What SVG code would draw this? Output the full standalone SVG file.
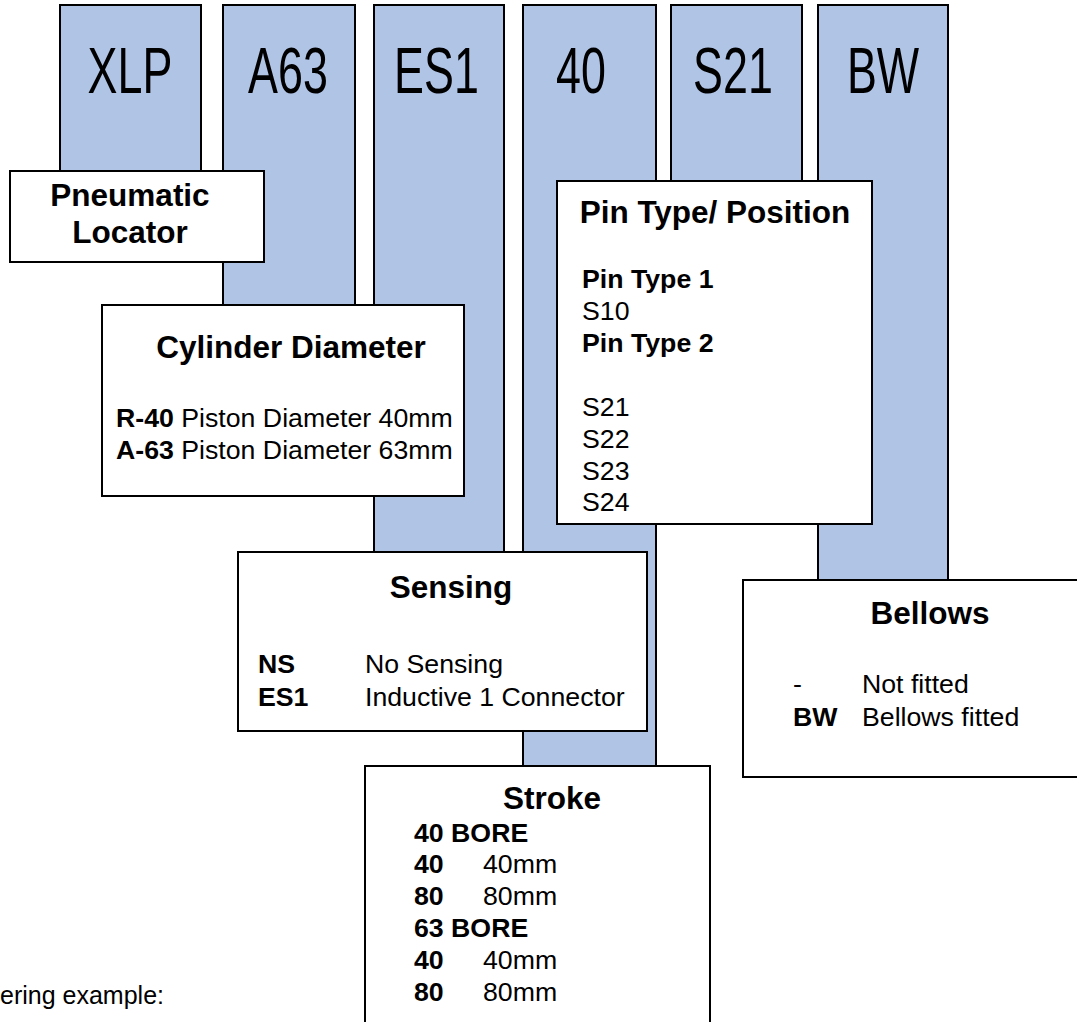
<svg xmlns="http://www.w3.org/2000/svg" width="1077" height="1022" viewBox="0 0 1077 1022">
<style>
.col{fill:#B0C4E6;stroke:#000;stroke-width:2}
.box{fill:#fff;stroke:#000;stroke-width:2}
.code{font-family:"Liberation Sans",Arial,sans-serif;font-size:65px;fill:#000;text-anchor:middle}
.title{font-family:"Liberation Sans",Arial,sans-serif;font-size:31.5px;font-weight:bold;fill:#000;text-anchor:middle}
.t{font-family:"Liberation Sans",Arial,sans-serif;font-size:26.7px;fill:#000}
.b{font-weight:bold}
</style>
<rect width="1077" height="1022" fill="#fff"/>
<g id="columns">
<g id="col-xlp"><rect class="col" x="60" y="5" width="141" height="180"/><text class="code" transform="translate(130,93) scale(0.69,1)">XLP</text></g>
<g id="col-a63"><rect class="col" x="223" y="5" width="132" height="310"/><text class="code" transform="translate(288,93) scale(0.69,1)">A63</text></g>
<g id="col-es1"><rect class="col" x="374" y="5" width="130" height="555"/><text class="code" transform="translate(436.5,93) scale(0.69,1)">ES1</text></g>
<g id="col-40"><rect class="col" x="523" y="5" width="133" height="770"/><text class="code" transform="translate(581,93) scale(0.69,1)">40</text></g>
<g id="col-s21"><rect class="col" x="671" y="5" width="131" height="190"/><text class="code" transform="translate(733,93) scale(0.69,1)">S21</text></g>
<g id="col-bw"><rect class="col" x="818" y="5" width="130" height="585"/><text class="code" transform="translate(883,93) scale(0.69,1)">BW</text></g>
</g>
<g id="connectors"></g>
<g id="pneumatic-locator">
<rect class="box" x="10" y="171" width="254" height="91"/>
<text class="title" x="130" y="206">Pneumatic</text>
<text class="title" x="130" y="243">Locator</text>
</g>
<g id="cylinder-diameter">
<rect class="box" x="102" y="305" width="362" height="191"/>
<text class="title" x="291" y="358">Cylinder Diameter</text>
<text class="t" x="116" y="427"><tspan class="b">R-40</tspan> Piston Diameter 40mm</text>
<text class="t" x="116" y="459"><tspan class="b">A-63</tspan> Piston Diameter 63mm</text>
</g>
<g id="pin-type-position">
<rect class="box" x="557" y="181" width="315" height="343"/>
<text class="title" x="715" y="223">Pin Type/ Position</text>
<text class="t b" x="582" y="288">Pin Type 1</text>
<text class="t" x="582" y="320">S10</text>
<text class="t b" x="582" y="352">Pin Type 2</text>
<text class="t" x="582" y="416">S21</text>
<text class="t" x="582" y="448">S22</text>
<text class="t" x="582" y="480">S23</text>
<text class="t" x="582" y="511">S24</text>
</g>
<g id="sensing">
<rect class="box" x="238" y="552" width="409" height="179"/>
<text class="title" x="451" y="598">Sensing</text>
<text class="t b" x="258" y="673">NS</text>
<text class="t" x="365" y="673">No Sensing</text>
<text class="t b" x="258" y="706">ES1</text>
<text class="t" x="365" y="706">Inductive 1 Connector</text>
</g>
<g id="bellows">
<rect class="box" x="743" y="580" width="340" height="197"/>
<text class="title" x="930" y="624">Bellows</text>
<text class="t" x="793" y="693">-</text>
<text class="t" x="862" y="693">Not fitted</text>
<text class="t b" x="793" y="726">BW</text>
<text class="t" x="862" y="726">Bellows fitted</text>
</g>
<g id="stroke">
<rect class="box" x="365" y="766" width="345" height="270"/>
<text class="title" x="552" y="809">Stroke</text>
<text class="t b" x="414" y="842">40 BORE</text>
<text class="t b" x="414" y="873">40</text><text class="t" x="483" y="873">40mm</text>
<text class="t b" x="414" y="905">80</text><text class="t" x="483" y="905">80mm</text>
<text class="t b" x="414" y="937">63 BORE</text>
<text class="t b" x="414" y="969">40</text><text class="t" x="483" y="969">40mm</text>
<text class="t b" x="414" y="1001">80</text><text class="t" x="483" y="1001">80mm</text>
</g>
<text class="t" x="0" y="1004" style="font-size:25px">ering example:</text>
</svg>
